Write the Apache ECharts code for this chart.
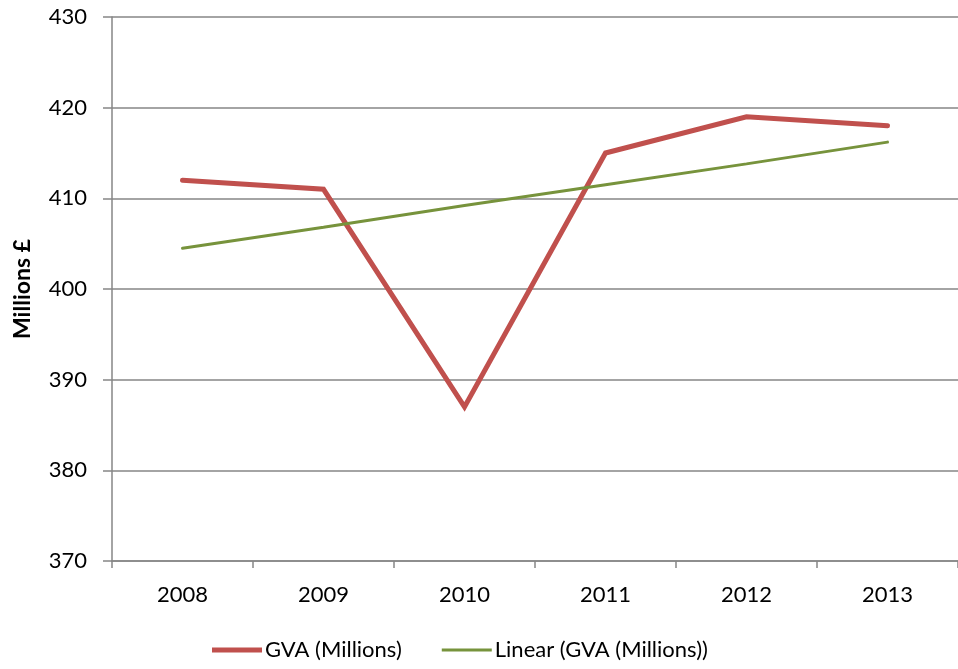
<!DOCTYPE html>
<html><head><meta charset="utf-8">
<script src="https://cdn.jsdelivr.net/npm/echarts@6/dist/echarts.min.js"></script>
<style>html,body{margin:0;padding:0;background:#fff}#c{width:958px;height:669px}</style>
</head><body><div id="c"></div>
<script>
const categories = ['2008','2009','2010','2011','2012','2013'];
const gva = [412, 411, 387, 415, 419, 418];
const linearTrend = [404.5, 406.8, 409.2, 411.5, 413.8, 416.2];
const yTicks = {min: 370, max: 430, interval: 10};
const FONT = 'Lato, "Open Sans", sans-serif';
const chart = echarts.init(document.getElementById('c'), null, {renderer: 'canvas'});
chart.setOption({
  animation: false,
  backgroundColor: '#fff',
  grid: {left: 112, top: 17, width: 852, height: 544, containLabel: false},
  legend: {
    bottom: 3, left: 207, itemGap: 40, itemWidth: 50, itemHeight: 10,
    textStyle: {fontFamily: FONT, fontSize: 22, color: '#000', padding: [0,0,0,-2]},
    data: [
      {name: 'GVA (Millions)', icon: 'path://M0,0L50,0L50,5L0,5Z', itemStyle: {color: '#C0504D'}},
      {name: 'Linear (GVA (Millions))', icon: 'path://M0,0L50,0L50,3L0,3Z', itemStyle: {color: '#77933C'}}
    ]
  },
  xAxis: {
    type: 'category', data: categories, boundaryGap: true,
    axisLine: {lineStyle: {color: '#868686', width: 1.5}},
    axisTick: {show: true, length: 7, lineStyle: {color: '#868686', width: 1.5}},
    axisLabel: {fontFamily: FONT, fontSize: 22, color: '#000', margin: 23}
  },
  yAxis: {
    type: 'value', min: yTicks.min, max: yTicks.max, interval: yTicks.interval,
    name: 'Millions £', nameLocation: 'middle', nameGap: 78, nameRotate: 90,
    nameTextStyle: {fontFamily: FONT, fontSize: 23, fontWeight: 'bold', color: '#000'},
    axisLine: {show: true, lineStyle: {color: '#868686', width: 1.5}},
    axisTick: {show: true, length: 9, lineStyle: {color: '#868686', width: 1.5}},
    axisLabel: {fontFamily: FONT, fontSize: 22, color: '#000', margin: 25},
    splitLine: {show: true, lineStyle: {color: '#868686', width: 1.5}}
  },
  series: [
    {name: 'GVA (Millions)', type: 'line', data: gva, symbol: 'none',
     lineStyle: {color: '#C0504D', width: 5, cap: 'round', join: 'miter'}, itemStyle: {color: '#C0504D'}},
    {name: 'Linear (GVA (Millions))', type: 'line', data: linearTrend, symbol: 'none',
     lineStyle: {color: '#77933C', width: 3, cap: 'round'}, itemStyle: {color: '#77933C'}}
  ]
});
</script></body></html>
